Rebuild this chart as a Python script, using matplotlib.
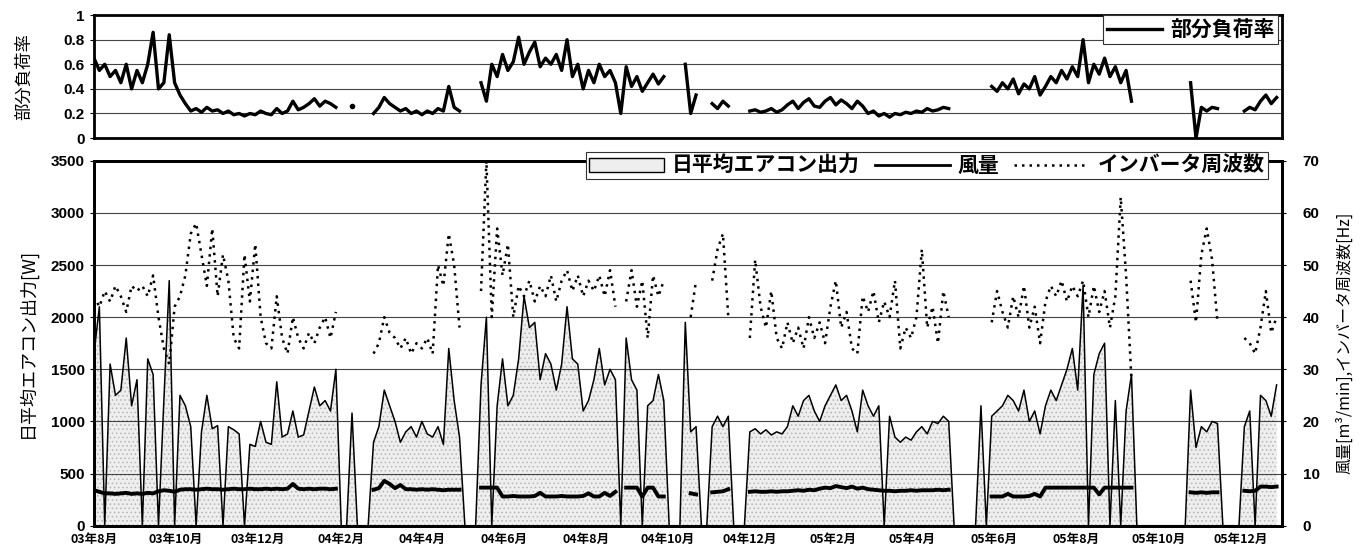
import numpy as np
import matplotlib
matplotlib.use("Agg")
import matplotlib.pyplot as plt
from matplotlib.patches import Patch
from matplotlib.lines import Line2D

plt.rcParams['font.family'] = ['Noto Sans CJK JP', 'DejaVu Sans']
plt.rcParams['hatch.linewidth'] = 0.6

# daily values, one sample every 4 days from 2003-08-01
start_day = np.datetime64('2003-08-01')
step_days = 4

# 日平均エアコン出力 [W]  (0 = stopped)
ac_output_w = (
    [1650, 2100, 0, 1550, 1250, 1300, 1800, 1150, 1400, 0, 1600, 1450]
    + [0, 1200, 2350, 0, 1250]
    + [1150, 950, 0, 900, 1250, 930, 960, 0, 950, 920, 880, 0, 780, 760, 1000,
       800, 780, 1380, 850, 880, 1100, 850, 870, 1100, 1330, 1150, 1200, 1100, 1500]
    + [0, 0, 1080, 0, 0, 0]
    + [800, 950, 1300, 1150, 1000, 800, 900, 950, 850, 1000, 880, 850, 950, 780,
       1700, 1200, 850]
    + [0, 0, 0]
    + [1350, 2000, 0, 1150, 1600, 1150, 1250, 1600, 2200, 1900, 1950, 1400, 1650,
       1550, 1300, 1550, 2100, 1600, 1550, 1100, 1200, 1400, 1700, 1350, 1500, 1400]
    + [0, 1800]
    + [1400, 1300, 0, 1150, 1200, 1450, 1200]
    + [0, 0, 0]
    + [1950, 900, 950]
    + [0, 0]
    + [950, 1050, 950, 1050]
    + [0, 0, 0]
    + [900, 930, 880, 920, 870, 900, 880, 950, 1150, 1050, 1200, 1250, 1100, 1000,
       1150, 1250, 1350, 1200, 1250, 1100, 900, 1300, 1150, 1050, 1150, 0, 1050,
       850, 800, 850, 820, 900, 950, 880, 1000, 980, 1050, 1000]
    + [0, 0, 0, 0, 0, 1150, 0]
    + [1050, 1100, 1150, 1250, 1200, 1100, 1300, 1000, 1100, 880, 1150, 1300, 1200,
       1350, 1500, 1700, 1300, 2300, 0, 1450, 1650, 1750, 0, 1200, 0, 1100, 1450]
    + [0] * 10
    + [1300, 750, 950, 900, 1000, 980]
    + [0, 0, 0, 0]
    + [950, 1100, 0, 1250, 1200, 1050, 1350]
)

# 風量 [m3/min]
airflow = (
    [6.8, 6.5, 6.2, 6.2, 6.1, 6.2, 6.3, 6.1, 6.2, 6.1, 6.3, 6.2]
    + [6.6, 6.8, 6.7, 6.5, 6.9]
    + [7.0, 7.0, 6.9, 7.0, 7.1, 7.0, 7.0, 6.9, 7.0, 7.1, 7.0, 7.0, 7.1, 7.0, 7.0,
       7.1, 7.0, 7.1, 7.0, 7.1, 8.0, 7.1, 7.0, 7.1, 7.0, 7.1, 7.1, 7.0, 7.1]
    + [None] * 6
    + [6.9, 7.2, 8.6, 8.0, 7.2, 7.8, 7.0, 7.0, 6.9, 7.0, 6.9, 7.0, 6.9, 6.8, 6.9,
       6.9, 6.9]
    + [None] * 3
    + [7.3, 7.3, 7.3, 7.3, 5.6, 5.6, 5.7, 5.6, 5.6, 5.6, 5.7, 6.3, 5.6, 5.6, 5.6,
       5.7, 5.6, 5.6, 5.6, 5.7, 6.2, 5.6, 5.6, 6.3, 5.7, 6.5]
    + [None, 7.3]
    + [7.3, 7.3, 5.6, 7.3, 7.3, 5.6, 5.6]
    + [None] * 3
    + [None, 6.2, 6.0]
    + [None] * 2
    + [6.4, 6.5, 6.6, 7.0]
    + [None] * 3
    + [6.5, 6.6, 6.5, 6.5, 6.6, 6.5, 6.6, 6.6, 6.7, 6.8, 6.7, 6.9, 6.8, 7.1, 7.3,
       7.2, 7.6, 7.4, 7.2, 7.5, 7.1, 7.3, 7.0, 6.9, 6.8, 6.7, 6.7, 6.6, 6.7, 6.7,
       6.8, 6.7, 6.8, 6.8, 6.8, 6.9, 6.8, 6.9]
    + [None] * 7
    + [5.6, 5.6, 5.6, 6.1, 5.6, 5.6, 5.6, 5.7, 6.1, 5.6, 7.3, 7.3, 7.3, 7.3, 7.3,
       7.3, 7.3, 7.3, 7.3, 7.3, 6.0, 7.3, 7.3, 7.3, 7.3, 7.3, 7.3]
    + [None] * 10
    + [6.4, 6.3, 6.4, 6.3, 6.4, 6.4]
    + [None] * 4
    + [6.7, 6.6, 6.7, 7.5, 7.5, 7.4, 7.5]
)

# インバータ周波数 [Hz]
inverter_hz = (
    [44, 42, 45, 43, 46, 44, 41, 46, 45, 46, 44, 48]
    + [40, 34, 31, 42, 44]
    + [48, 56, 58, 52, 46, 57, 44, 52, 47, 36, 34, 52, 43, 54, 40, 35, 34, 44, 36,
       33, 40, 36, 34, 37, 35, 38, 40, 36, 41]
    + [None, None, 35, None, None, None]
    + [33, 35, 40, 37, 36, 34, 36, 33, 35, 34, 36, 33, 50, 46, 56, 50, 38]
    + [None] * 3
    + [45, 70, 40, 57, 48, 54, 40, 46, 44, 47, 43, 46, 44, 48, 43, 47, 49, 45, 48,
       44, 47, 45, 48, 44, 49, 42]
    + [None, 43]
    + [49, 42, 47, 36, 48, 44, 47]
    + [None] * 3
    + [None, 40, 47]
    + [None] * 2
    + [47, 53, 56, 40]
    + [None] * 3
    + [36, 51, 42, 38, 45, 36, 34, 39, 35, 38, 34, 40, 36, 39, 35, 42, 47, 38, 41,
       34, 33, 44, 41, 45, 39, 43, 40, 47, 34, 38, 36, 40, 53, 38, 42, 35, 45, 40]
    + [None] * 7
    + [39, 45, 41, 38, 44, 40, 46, 38, 42, 35, 43, 46, 44, 47, 43, 46, 44, 47, 40,
       46, 41, 45, 38, 44, 63, 48, 28]
    + [None] * 10
    + [47, 39, 52, 57, 51, 39]
    + [None] * 4
    + [36, 35, 33, 38, 45, 37, 40]
)

# 部分負荷率
load_ratio = (
    [0.65, 0.55, 0.6, 0.5, 0.55, 0.45, 0.6, 0.4, 0.55, 0.45, 0.6, 0.86]
    + [0.4, 0.45, 0.84, 0.45, 0.35]
    + [0.28, 0.22, 0.24, 0.21, 0.25, 0.22, 0.23, 0.2, 0.22, 0.19, 0.2, 0.18, 0.2,
       0.19, 0.22, 0.2, 0.19, 0.24, 0.2, 0.22, 0.3, 0.23, 0.25, 0.28, 0.32, 0.26,
       0.3, 0.28, 0.25]
    + [None, None, 0.26, None, None, None]
    + [0.2, 0.25, 0.33, 0.28, 0.25, 0.22, 0.24, 0.2, 0.22, 0.19, 0.22, 0.2, 0.24,
       0.22, 0.42, 0.25, 0.22]
    + [None] * 3
    + [0.45, 0.3, 0.6, 0.5, 0.68, 0.55, 0.62, 0.82, 0.6, 0.7, 0.78, 0.58, 0.65,
       0.6, 0.68, 0.55, 0.8, 0.5, 0.6, 0.4, 0.55, 0.45, 0.6, 0.5, 0.55, 0.45]
    + [0.2, 0.58]
    + [0.42, 0.5, 0.38, 0.45, 0.52, 0.44, 0.5]
    + [None] * 3
    + [0.6, 0.2, 0.35]
    + [None] * 2
    + [0.28, 0.24, 0.3, 0.26]
    + [None] * 3
    + [0.22, 0.23, 0.21, 0.22, 0.24, 0.21, 0.23, 0.27, 0.3, 0.24, 0.29, 0.32, 0.26,
       0.25, 0.3, 0.33, 0.27, 0.31, 0.28, 0.24, 0.3, 0.26, 0.2, 0.22, 0.18, 0.2,
       0.17, 0.2, 0.19, 0.21, 0.2, 0.22, 0.21, 0.24, 0.22, 0.23, 0.25, 0.24]
    + [None] * 7
    + [0.42, 0.38, 0.45, 0.4, 0.48, 0.36, 0.44, 0.4, 0.5, 0.35, 0.42, 0.5, 0.45,
       0.55, 0.48, 0.58, 0.5, 0.8, 0.45, 0.6, 0.52, 0.65, 0.5, 0.58, 0.45, 0.55, 0.3]
    + [None] * 10
    + [0.45, 0.0, 0.25, 0.22, 0.25, 0.24]
    + [None] * 4
    + [0.22, 0.25, 0.23, 0.3, 0.35, 0.28, 0.33]
)

tick_labels = ['03年8月', '03年10月', '03年12月', '04年2月', '04年4月', '04年6月',
               '04年8月', '04年10月', '04年12月', '05年2月', '05年4月', '05年6月',
               '05年8月', '05年10月', '05年12月']

n = len(ac_output_w)
assert len(airflow) == n and len(inverter_hz) == n and len(load_ratio) == n, \
    (n, len(airflow), len(inverter_hz), len(load_ratio))

days = start_day + step_days * np.arange(n)
out_w = np.array(ac_output_w, dtype=float)
flow = np.array(airflow, dtype=float)
freq = np.array(inverter_hz, dtype=float)
ratio = np.array(load_ratio, dtype=float)

tick_dates = np.arange('2003-08', '2006-01', 2, dtype='datetime64[M]').astype('datetime64[D]')
x_lo, x_hi = np.datetime64('2003-08-01'), np.datetime64('2006-01-01')

num_font = dict(family=['Liberation Sans', 'DejaVu Sans'], weight='bold', size=11)
jp_bold = dict(family=['Noto Sans CJK JP', 'DejaVu Sans'], weight='bold', size=9)
dotted = (0, (1, 2))

fig = plt.figure(figsize=(13.66, 5.48), dpi=100)
ax_top = fig.add_axes([0.0688, 0.748, 0.8697, 0.2245])
ax = fig.add_axes([0.0688, 0.0407, 0.8697, 0.666])
ax2 = ax.twinx()

# ---- top panel: partial load ratio
ax_top.plot(days, ratio, color='black', lw=2.4)
lone = np.isfinite(ratio) & ~np.isfinite(np.r_[np.nan, ratio[:-1]]) & ~np.isfinite(np.r_[ratio[1:], np.nan])
ax_top.plot(days[lone], ratio[lone], 'o', color='black', ms=3)
ax_top.set_xlim(x_lo, x_hi)
ax_top.set_ylim(0, 1)
ax_top.set_yticks([0, 0.2, 0.4, 0.6, 0.8, 1])
ax_top.set_yticklabels(['0', '0.2', '0.4', '0.6', '0.8', '1'], **num_font)
ax_top.tick_params(axis='y', length=3)
ax_top.set_xticks([])
ax_top.grid(axis='y', color='#444444', lw=0.8)
ax_top.set_ylabel('部分負荷率', fontsize=12.5)
ax_top.yaxis.set_label_coords(-0.051, 0.5)
for s in ax_top.spines.values():
    s.set_linewidth(2)
leg_top = ax_top.legend(handles=[Line2D([], [], color='black', lw=2.4)], labels=['部分負荷率'],
                        loc='upper right', bbox_to_anchor=(0.997, 1.0), borderaxespad=0,
                        fancybox=False, framealpha=1, edgecolor='#333333',
                        prop=dict(size=15, weight='bold'),
                        handlelength=2.6, handletextpad=0.4, borderpad=0.2)
leg_top.get_frame().set_linewidth(0.8)

# ---- bottom panel
ax.fill_between(days, 0, out_w, facecolor='#eeeeee', edgecolor='#b5b5b5', hatch='....',
                lw=0, zorder=1)
ax.plot(days, out_w, color='black', lw=1.1, zorder=2)
ax.set_xlim(x_lo, x_hi)
ax.set_ylim(0, 3500)
ax.set_yticks(np.arange(0, 3501, 500))
ax.set_yticklabels([str(v) for v in range(0, 3501, 500)], **num_font)
ax.set_xticks(tick_dates)
ax.set_xticklabels(tick_labels, **jp_bold)
ax.tick_params(axis='x', length=0, pad=5)
ax.tick_params(axis='y', length=3)
ax.grid(axis='y', color='#444444', lw=0.8)
ax.set_ylabel('日平均エアコン出力[W]', fontsize=13)
ax.yaxis.set_label_coords(-0.048, 0.5)

ax2.plot(days, freq, color='black', lw=1.8, ls=dotted, zorder=3)
ax2.plot(days, flow, color='black', lw=2.8, zorder=4)
ax2.set_ylim(0, 70)
ax2.set_yticks(np.arange(0, 71, 10))
ax2.set_yticklabels([str(v) for v in range(0, 71, 10)], **num_font)
ax2.tick_params(axis='y', length=3, pad=12)
ax2.set_ylabel('風量[m³/min],インバータ周波数[Hz]', fontsize=11.5)
ax2.yaxis.set_label_coords(1.0455, 0.5)
for a in (ax, ax2):
    for s in a.spines.values():
        s.set_linewidth(2)

handles = [Patch(facecolor='#eeeeee', edgecolor='black', lw=1.0),
           Line2D([], [], color='black', lw=2.0),
           Line2D([], [], color='black', lw=1.8, ls=dotted)]
leg = ax2.legend(handles, ['日平均エアコン出力', '風量', 'インバータ周波数'],
                 loc='upper right', bbox_to_anchor=(0.988, 1.024), borderaxespad=0,
                 ncol=3, fancybox=False, framealpha=1, edgecolor='#333333',
                 prop=dict(size=15, weight='bold'), handlelength=3.6,
                 handletextpad=0.4, columnspacing=0.7, borderpad=0.15)
leg.get_frame().set_linewidth(0.8)
leg.set_zorder(10)

fig.savefig('out.png', dpi=100)
